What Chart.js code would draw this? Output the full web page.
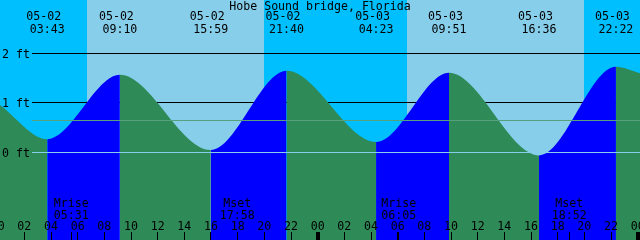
<!DOCTYPE html>
<html><head><meta charset="utf-8">
<script src="https://cdn.jsdelivr.net/npm/chart.js@4/dist/chart.umd.min.js"></script>
<style>html,body{margin:0;padding:0;background:#fff;overflow:hidden}canvas{display:block}</style>
</head><body>
<canvas id="c" width="640" height="240"></canvas>
<script>
// ---- data ----
const title = "Hobe Sound bridge, Florida";
const eventDates   = ["05-02","05-02","05-02","05-02","05-03","05-03","05-03","05-03"];
const eventTimes   = ["03:43","09:10","15:59","21:40","04:23","09:51","16:36","22:22"];
const eventHeights = [0.27, 1.57, 0.05, 1.65, 0.21, 1.61, -0.06, 1.73];
const edgeHeights  = [0.96, 1.60];            // tide at left / right edge of window
const viewStartHour = 0.175;                  // hours after 05-02 00:00
const viewEndHour   = 48.175;
const sunriseTimes = ["05-02 06:41", "05-03 06:41"];
const sunsetTimes  = ["05-02 19:58", "05-03 19:58"];
const moonNames = ["Mrise","Mset","Mrise","Mset"];
const moonDates = ["05-02","05-02","05-03","05-03"];
const moonTimes = ["05:31","17:58","06:05","18:52"];
const hourTickLabels = ["00","02","04","06","08","10","12","14","16","18","20","22"];
const levelLines  = [2, 1];
const levelLabels = ["2 ft","1 ft","0 ft"];
const datumLevel = 0;
const meanLevel = 0.64;
const yMin = -1.7677, yMax = 3.0808;

const DAY = '#87CEEB', NIGHT = '#00BFFF', FLOOD = '#0000FF', EBB = '#2E8B57';
const FONT = '11.6px "DejaVu Sans Mono", "Liberation Mono", monospace';

function toHours(date, time) {
  const day = date === "05-02" ? 0 : 24;
  const [h, m] = time.split(':').map(Number);
  return day + h + m / 60;
}
function toHoursDT(s) { const [d, t] = s.split(' '); return toHours(d, t); }

const points = [{x: viewStartHour, y: edgeHeights[0]}];
eventTimes.forEach((t, i) => points.push({x: toHours(eventDates[i], t), y: eventHeights[i]}));
points.push({x: viewEndHour, y: edgeHeights[1]});

const decor = {
  id: 'decor',
  beforeDraw(chart) {
    const {ctx, scales: {x, y}} = chart;
    const W = chart.width, H = chart.height;
    ctx.save();
    ctx.fillStyle = NIGHT;
    ctx.fillRect(0, 0, W, H);
    ctx.fillStyle = DAY;
    sunriseTimes.forEach((sr, i) => {
      const a = Math.round(x.getPixelForValue(toHoursDT(sr)));
      const b = Math.round(x.getPixelForValue(toHoursDT(sunsetTimes[i])));
      ctx.fillRect(a, 0, b - a, H);
    });
    ctx.fillStyle = '#000';
    levelLines.forEach(v => {
      const py = Math.floor(y.getPixelForValue(v));
      ctx.fillRect(32, py, W - 32, 1);
    });
    ctx.restore();
  },
  afterDatasetsDraw(chart) {
    const {ctx, scales: {x, y}} = chart;
    const W = chart.width;
    ctx.save();
    // datum + mean lines
    ctx.fillStyle = '#87CEEB';
    ctx.fillRect(32, Math.floor(y.getPixelForValue(datumLevel)), W - 32, 1);
    ctx.fillStyle = '#55A07F';
    ctx.fillRect(32, Math.floor(y.getPixelForValue(meanLevel)), W - 32, 1);

    ctx.font = FONT;
    ctx.fillStyle = '#000';
    ctx.textBaseline = 'alphabetic';
    // level labels
    ctx.textAlign = 'left';
    [2, 1, 0].forEach((v, i) => {
      ctx.fillText(levelLabels[i], 2, Math.floor(y.getPixelForValue(v)) + 5);
    });
    // title
    ctx.textAlign = 'center';
    ctx.fillText(title, 320, 10);
    // tide event labels
    eventTimes.forEach((t, i) => {
      const px = x.getPixelForValue(toHours(eventDates[i], t));
      ctx.fillText(eventDates[i], px - 3.5, 20);
      ctx.fillText(t, px, 33);
    });
    // moon labels + ticks
    moonNames.forEach((n, i) => {
      const px = x.getPixelForValue(toHours(moonDates[i], moonTimes[i]));
      ctx.fillText(n, px, 207);
      ctx.fillText(moonTimes[i], px, 219);
      ctx.fillRect(Math.floor(px), 232, 1, 8);
    });
    // hour ticks
    for (let h = 0; h <= 48; h += 2) {
      const px = x.getPixelForValue(h);
      ctx.fillText(hourTickLabels[(h / 2) % 12], px, 230);
      if (h % 24 === 0) ctx.fillRect(Math.floor(px) - 1, 232, 4, 8);
      else ctx.fillRect(Math.floor(px), 232, 1, 8);
    }
    ctx.restore();
  }
};

new Chart(document.getElementById('c'), {
  type: 'line',
  data: {
    datasets: [{
      data: points,
      fill: 'start',
      backgroundColor: EBB,
      borderColor: 'transparent',
      borderWidth: 0,
      pointRadius: 0,
      cubicInterpolationMode: 'monotone',
      segment: {
        backgroundColor: c => (c.p1.parsed.y > c.p0.parsed.y ? FLOOD : EBB)
      }
    }]
  },
  options: {
    responsive: false,
    animation: false,
    devicePixelRatio: 1,
    layout: {padding: 0},
    events: [],
    plugins: {legend: {display: false}, tooltip: {enabled: false}},
    scales: {
      x: {type: 'linear', min: viewStartHour, max: viewEndHour, display: false},
      y: {type: 'linear', min: yMin, max: yMax, display: false}
    }
  },
  plugins: [decor]
});
</script>
</body></html>
